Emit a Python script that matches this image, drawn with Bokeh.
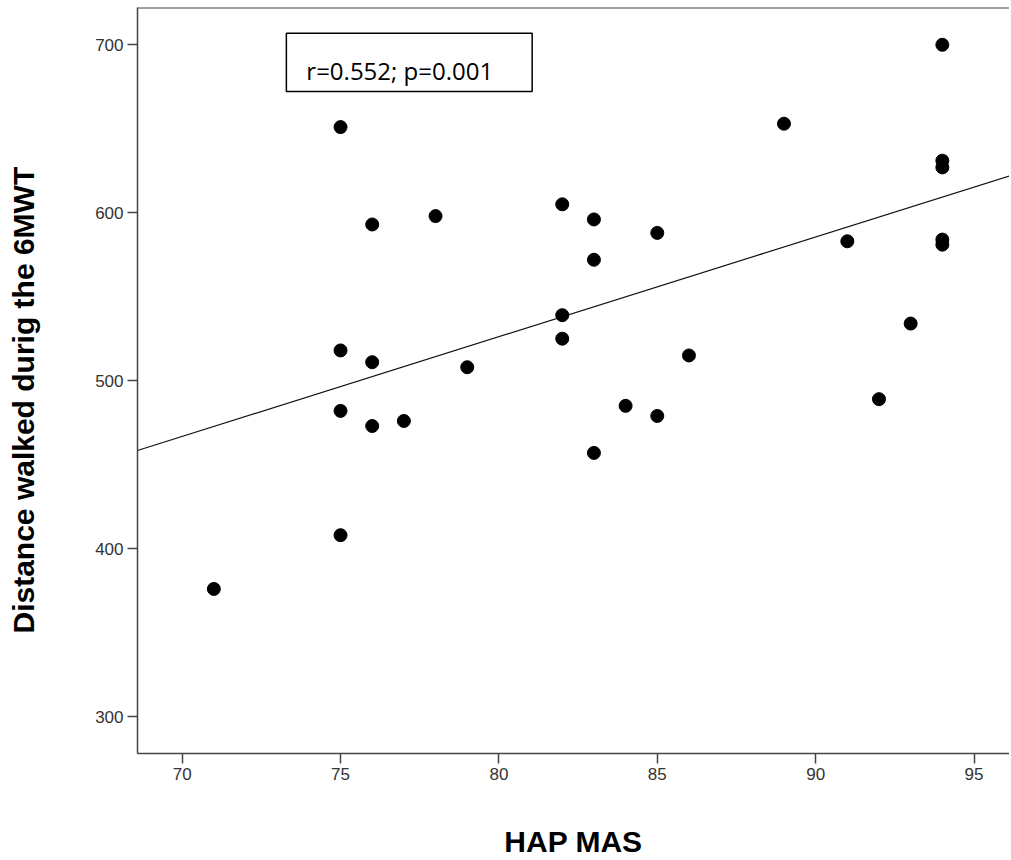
from bokeh.plotting import figure
from bokeh.models import (Span, BoxAnnotation, FixedTicker, ColumnDataSource, Label,
                          Title, LinearAxis)
from bokeh.embed import file_html
from bokeh.resources import INLINE

# Data
hap_mas = [71, 75, 75, 75, 75, 76, 76, 76, 77, 78, 79, 82, 82, 82, 83, 83, 83,
           84, 85, 85, 86, 89, 91, 92, 93, 94, 94, 94, 94, 94]
distance = [376, 651, 518, 482, 408, 593, 511, 473, 476, 598, 508, 605, 539, 525,
            596, 572, 457, 485, 588, 479, 515, 653, 583, 489, 534, 700, 631, 627,
            584, 581]

# Fit line endpoints
fit_x = [68.59, 96.12]
fit_y = [458.4, 621.9]

x_ticks = [70, 75, 80, 85, 90, 95]
y_ticks = [300, 400, 500, 600, 700]

x_label = "HAP MAS"
y_label = "Distance walked durig the 6MWT"
stat_text = "r=0.552; p=0.001"

X0, X1 = 68.59, 96.12
Y0, Y1 = 278.0, 722.2

p = figure(width=1009, height=860, x_range=(X0, X1), y_range=(Y0, Y1),
           output_backend="svg", toolbar_location=None,
           min_border_left=137, min_border_right=0, min_border_top=7,
           min_border_bottom=107)
p.outline_line_color = None
p.background_fill_color = "white"
p.border_fill_color = "white"
p.xgrid.visible = False
p.ygrid.visible = False

for ax in (p.xaxis[0], p.yaxis[0]):
    ax.axis_line_color = "#444444"
    ax.axis_line_width = 1.5
    ax.major_tick_line_color = "#444444"
    ax.major_tick_line_width = 1.5
    ax.major_tick_in = 0
    ax.major_tick_out = 10
    ax.minor_tick_line_color = None
    ax.major_label_text_font = "Liberation Sans"
    ax.major_label_text_font_size = "17px"
    ax.major_label_text_color = "#333333"

p.xaxis[0].ticker = FixedTicker(ticks=x_ticks)
p.yaxis[0].ticker = FixedTicker(ticks=y_ticks)
p.xaxis[0].major_label_standoff = 4
p.yaxis[0].major_label_standoff = 4

# x axis title
p.xaxis[0].axis_label = x_label
p.xaxis[0].axis_label_standoff = 42
p.xaxis[0].axis_label_text_font = "Liberation Sans"
p.xaxis[0].axis_label_text_font_style = "bold"
p.xaxis[0].axis_label_text_font_size = "30px"
p.xaxis[0].axis_label_text_color = "black"

# spacer axis (invisible) to push the y title outward
spacer = LinearAxis(ticker=FixedTicker(ticks=[500]), axis_line_color=None,
                    major_tick_line_color="white", minor_tick_line_color=None,
                    major_tick_in=0, major_tick_out=51, minor_tick_in=0,
                    minor_tick_out=0, major_label_standoff=0,
                    major_label_overrides={500: ""})
p.add_layout(spacer, "left")

yt = Title(text=y_label, align="left", offset=120, text_font="Liberation Sans",
           text_font_style="bold", text_font_size="30px", text_color="black",
           standoff=4)
p.add_layout(yt, "left")

# top frame line
p.add_layout(Span(location=Y1, dimension="width", line_color="#444444", line_width=2))

# fit line
p.line(fit_x, fit_y, line_color="#111111", line_width=1.2)

# points
src = ColumnDataSource(dict(x=hap_mas, y=distance))
p.scatter("x", "y", source=src, size=13, fill_color="black", line_color="black")

# stats box
p.add_layout(BoxAnnotation(left=73.29, right=81.05, bottom=672.2, top=706.9,
                           fill_alpha=0, line_color="black", line_alpha=1.0,
                           line_width=1.5))
p.add_layout(Label(x=73.92, y=684.7, text=stat_text, text_font="Open Sans",
                   text_font_size="24px", text_color="black",
                   text_baseline="alphabetic", text_align="left"))

open("out.html", "w").write(file_html(p, INLINE))
